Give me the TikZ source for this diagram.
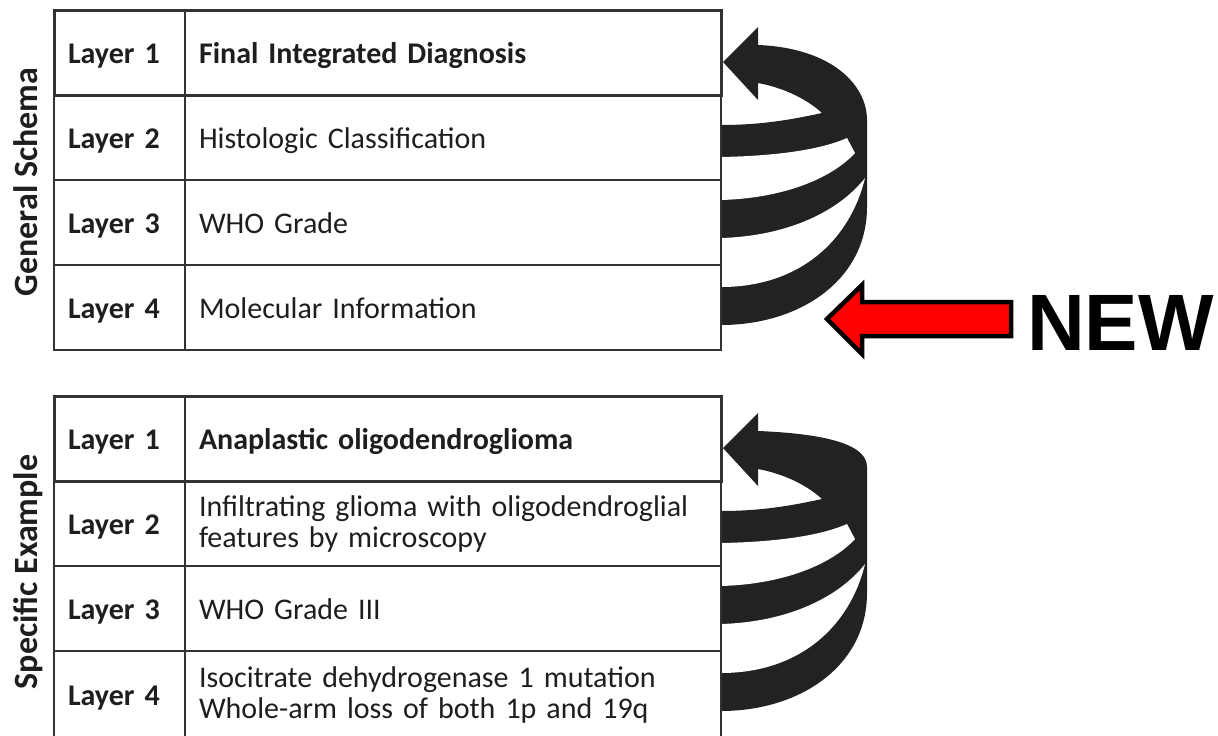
\documentclass[tikz,border=0pt]{standalone}
\usepackage{fontspec}
\setmainfont{Carlito}
\newfontfamily\bannerfont{Liberation Sans}
\usepackage{xcolor}
\usetikzlibrary{positioning}
\definecolor{gridgrey}{RGB}{50,50,50}
\definecolor{spiralblack}{RGB}{34,34,34}
\definecolor{newred}{RGB}{255,0,0}
\definecolor{textdark}{RGB}{30,30,30}

\tikzset{
  cell/.style={draw=gridgrey, line width=1.2pt, minimum height=85pt, inner xsep=14pt, inner ysep=0pt,
    outer sep=0pt, align=left, text=textdark, font=\fontsize{30}{31}\selectfont,
    text height=22pt, text depth=0.6pt},
  twolines/.style={text height={}, text depth={}},
  layercell/.style={cell, text width=103pt, font=\fontsize{30}{31}\selectfont\bfseries},
  infocell/.style={cell, text width=508pt},
  toprow/.style={draw=gridgrey, line width=3pt},
  sidelabel/.style={rotate=90, anchor=base, text=textdark, font=\fontsize{34}{40}\selectfont\bfseries},
  spiral/.style={fill=spiralblack},
  gap/.style={fill=white},
}

\begin{document}
\begin{tikzpicture}[x=1pt, y=-1pt]
\useasboundingbox (0,0) rectangle (1218,736);

% curled arrows beside both tables
\foreach \dy/\ry/\rc in {0/120/85, 386/81/60}{
\begin{scope}[shift={(0,\dy)}]
\fill[spiral] (721,325) -- (721,125)
  .. controls (760,125) and (790,120) .. (822,113)
  .. controls (808,100) and (785,88) .. (758,83)
  -- (758,100) -- (723,62) -- (758,27) -- (758,45)
  .. controls (832,48) and (867,\rc) .. (867,\ry)
  -- (867,207)
  .. controls (867,280) and (800,325) .. (721,325) -- cycle;
\fill[gap] (721,157) .. controls (775,156) and (820,150) .. (847,138)
  -- (855,153) .. controls (835,175) and (790,198) .. (721,200) -- cycle;
\fill[gap] (721,238) .. controls (790,236) and (840,210) .. (865,178)
  .. controls (850,240) and (800,287) .. (721,287) -- cycle;
\end{scope}
}

% general schema
\node[layercell] (g1) at (119.5,52.5) {Layer 1};
\node[infocell, right=0pt of g1] (g1t) {\bfseries Final Integrated Diagnosis};
\node[layercell, below=0pt of g1] (g2) {Layer 2};
\node[infocell, right=0pt of g2] (g2t) {Histologic Classification};
\node[layercell, below=0pt of g2] (g3) {Layer 3};
\node[infocell, right=0pt of g3] (g3t) {WHO Grade};
\node[layercell, below=0pt of g3] (g4) {Layer 4};
\node[infocell, right=0pt of g4] (g4t) {Molecular Information};
\draw[toprow] (g1.north west) rectangle (g1t.south east);
\node[sidelabel] (general) at (37,182) {General Schema};

% specific example
\node[layercell] (s1) at (119.5,438.5) {Layer 1};
\node[infocell, right=0pt of s1] (s1t) {\bfseries Anaplastic oligodendroglioma};
\node[layercell, below=0pt of s1] (s2) {Layer 2};
\node[infocell, twolines, right=0pt of s2] (s2t) {Infiltrating glioma with oligodendroglial\\features by microscopy};
\node[layercell, below=0pt of s2] (s3) {Layer 3};
\node[infocell, right=0pt of s3] (s3t) {WHO Grade III};
\node[layercell, below=0pt of s3, minimum height=87pt] (s4) {Layer 4};
\node[infocell, twolines, right=0pt of s3t.south west, anchor=north west, minimum height=87pt] (s4t) {Isocitrate dehydrogenase 1 mutation\\Whole-arm loss of both 1p and 19q};
\draw[toprow] (s1.north west) rectangle (s1t.south east);
\node[sidelabel] (specific) at (37,572) {Specific Example};

% new marker
\node[anchor=base west, inner sep=0pt, font=\bannerfont\fontsize{80}{80}\selectfont\bfseries] (new) at (1027,350) {NEW};
\filldraw[draw=black, fill=newred, line width=4.5pt, miter limit=10]
  (1011,302) -- (862,302) -- (862,285) -- (827,319) -- (862,354) -- (862,336) -- (1011,336) -- cycle;
\end{tikzpicture}
\end{document}
